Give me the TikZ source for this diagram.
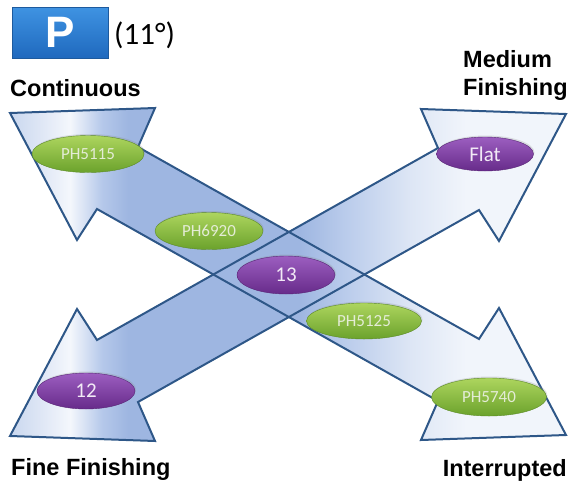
\documentclass[tikz,border=0pt]{standalone}
\usepackage{fontspec}
\setmainfont{Liberation Sans}
\newfontfamily\carl{Carlito}
\usetikzlibrary{shapes.geometric,shadows}
\definecolor{aTip}{HTML}{C9D7EF}
\definecolor{aHead}{HTML}{DEE6F5}
\definecolor{aBand}{HTML}{F4F7FC}
\definecolor{aBase}{HTML}{B5C8EA}
\definecolor{aMid}{HTML}{9EB6E1}
\definecolor{aFadeA}{HTML}{B9CBEB}
\definecolor{aFadeB}{HTML}{DDE6F5}
\definecolor{aEnd}{HTML}{F1F5FB}
\definecolor{aLine}{HTML}{2E5788}
\definecolor{grnT}{HTML}{ADD55E}
\definecolor{grnB}{HTML}{6BA22C}
\definecolor{grnTxt}{HTML}{E4ECD6}
\definecolor{purT}{HTML}{9C5EC0}
\definecolor{purB}{HTML}{672B8A}
\definecolor{purTxt}{HTML}{F2EAF6}
\definecolor{pT}{HTML}{3F93E2}
\definecolor{pB}{HTML}{1F69BE}
\definecolor{pLine}{HTML}{1D5A9E}
\pgfdeclarehorizontalshading{arrowfill}{100bp}{color(0bp)=(aTip); color(25bp)=(aTip); color(27.7bp)=(aHead); color(30.4bp)=(aBand); color(33.3bp)=(aBase); color(35.6bp)=(aMid); color(51bp)=(aMid); color(55bp)=(aFadeA); color(61bp)=(aFadeB); color(66bp)=(aEnd); color(100bp)=(aEnd)}
\newcommand\ovgreen{\carl\fontsize{17}{20}\selectfont}
\newcommand\ovpurple{\carl\fontsize{21}{24}\selectfont}
\begin{document}
\begin{tikzpicture}[x=1pt,y=-1pt,
  arrowbody/.style={shading=arrowfill},
  arrowline/.style={draw=aLine,line width=2,line join=miter},
  lab/.style={inner sep=0,font=\fontsize{23.5}{28}\selectfont\bfseries,text=black},
  greenov/.style={ellipse,inner sep=0,top color=grnT,bottom color=grnB,draw=grnB!85!black,line width=0.4,text=grnTxt,font=\ovgreen,drop shadow={opacity=0.22,shadow xshift=1,shadow yshift=-1.5}},
  purpleov/.style={ellipse,inner sep=0,top color=purT,bottom color=purB,draw=purB!85!black,line width=0.4,text=purTxt,font=\ovpurple,drop shadow={opacity=0.22,shadow xshift=1,shadow yshift=-1.5}},
  pbox/.style={rectangle,inner sep=0,minimum width=96,minimum height=51,top color=pT,bottom color=pB,draw=pLine,line width=0.8,text=white,font=\fontsize{44}{44}\selectfont\bfseries}
]
\useasboundingbox (0,0) rectangle (568,496);

% arrow Continuous <-> Interrupted
\path[arrowbody] (10,113) -- (155,108) -- (138,147) -- (479,339) -- (499,308) -- (566,435) -- (421,440) -- (438,401) -- (97,209) -- (77,240) -- cycle;
% arrow Fine Finishing <-> Medium Finishing
\path[arrowbody] (10,436) -- (155,441) -- (138,402) -- (479,210) -- (499,241) -- (566,114) -- (421,109) -- (438,148) -- (97,340) -- (77,309) -- cycle;
% outlines
\draw[arrowline] (10,113) -- (155,108) -- (138,147) -- (479,339) -- (499,308) -- (566,435) -- (421,440) -- (438,401) -- (97,209) -- (77,240) -- cycle;
\draw[arrowline] (10,436) -- (155,441) -- (138,402) -- (479,210) -- (499,241) -- (566,114) -- (421,109) -- (438,148) -- (97,340) -- (77,309) -- cycle;

% header
\node[pbox] (pb) at (60,32.5) {P};
\node[anchor=base west,inner sep=0,font=\carl\fontsize{31}{33}\selectfont] (ang) at (114,44) {(11°)};

% labels
\node[lab,anchor=base west] (cont) at (10,96) {Continuous};
\node[lab,anchor=north west,align=left] (med) at (463,50) {Medium\\Finishing};
\node[lab,anchor=base west] (fine) at (11,475) {Fine Finishing};
\node[lab,anchor=base east] (intr) at (567,476) {Interrupted};

% ovals
\node[greenov,minimum width=112,minimum height=37] (p5115) at (88,154) {PH5115};
\node[greenov,minimum width=108,minimum height=37] (p6920) at (209,231) {PH6920};
\node[purpleov,minimum width=98,minimum height=38] (n13) at (286,275) {13};
\node[purpleov,minimum width=97,minimum height=34] (flat) at (485,154) {Flat};
\node[greenov,minimum width=115,minimum height=36] (p5125) at (364,321) {PH5125};
\node[greenov,minimum width=115,minimum height=38] (p5740) at (489,397) {PH5740};
\node[purpleov,minimum width=98,minimum height=36] (n12) at (86,391) {12};
\end{tikzpicture}
\end{document}
